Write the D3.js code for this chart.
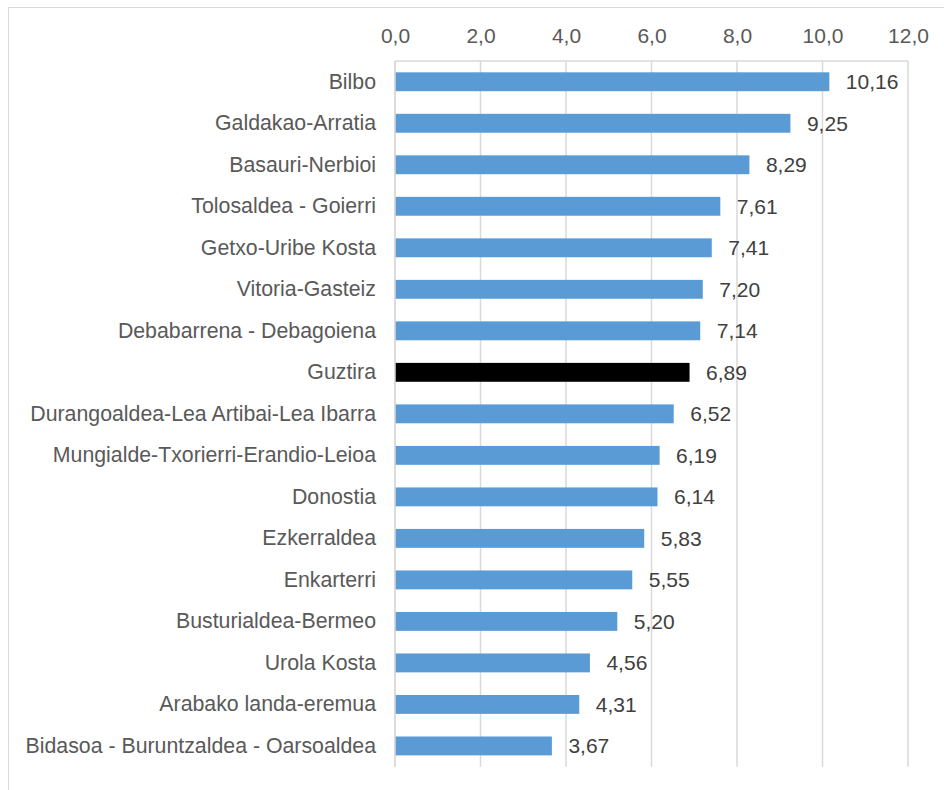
<!DOCTYPE html>
<html>
<head>
<meta charset="utf-8">
<script src="https://cdn.jsdelivr.net/npm/d3@7"></script>
<style>
  html, body { margin: 0; padding: 0; background: #fff; }
  svg { display: block; font-family: "Liberation Sans", Arial, sans-serif; }
</style>
</head>
<body>
<svg id="chart" width="944" height="790"></svg>
<script>
// Regions, top to bottom
const categories = [
  "Bilbo",
  "Galdakao-Arratia",
  "Basauri-Nerbioi",
  "Tolosaldea - Goierri",
  "Getxo-Uribe Kosta",
  "Vitoria-Gasteiz",
  "Debabarrena - Debagoiena",
  "Guztira",
  "Durangoaldea-Lea Artibai-Lea Ibarra",
  "Mungialde-Txorierri-Erandio-Leioa",
  "Donostia",
  "Ezkerraldea",
  "Enkarterri",
  "Busturialdea-Bermeo",
  "Urola Kosta",
  "Arabako landa-eremua",
  "Bidasoa - Buruntzaldea - Oarsoaldea"
];
const values = [10.16, 9.25, 8.29, 7.61, 7.41, 7.20, 7.14, 6.89, 6.52, 6.19, 6.14, 5.83, 5.55, 5.20, 4.56, 4.31, 3.67];
const tickValues = [0, 2, 4, 6, 8, 10, 12];
const totalCategory = "Guztira";

const svg = d3.select("#chart");
const margin = { left: 395, right: 36, top: 61, bottom: 23.3 };
const W = 944, H = 790;
const fontFamily = "'Liberation Sans', Arial, sans-serif";

// outer chart frame
svg.append("rect")
  .attr("x", 8.5).attr("y", 7.5)
  .attr("width", 960).attr("height", 820)
  .attr("fill", "#fff").attr("stroke", "#d9d9d9").attr("stroke-width", 1);

const x = d3.scaleLinear().domain([0, 12]).range([margin.left, 908]);
const y = d3.scaleBand().domain(categories)
  .range([margin.top, H - margin.bottom])
  .paddingInner(0.545).paddingOuter(0.2725);

const fmt = v => d3.format(".1f")(v).replace(".", ",");
const fmt2 = v => d3.format(".2f")(v).replace(".", ",");

// vertical gridlines
svg.append("g").selectAll("line").data(tickValues).join("line")
  .attr("x1", d => x(d)).attr("x2", d => x(d))
  .attr("y1", margin.top).attr("y2", H - margin.bottom)
  .attr("stroke", "#d9d9d9").attr("stroke-width", 1.5);

// top axis line
svg.append("line")
  .attr("x1", x(0)).attr("x2", x(12))
  .attr("y1", margin.top).attr("y2", margin.top)
  .attr("stroke", "#d9d9d9").attr("stroke-width", 1.5);

// top axis labels
const xAxis = d3.axisTop(x).tickValues(tickValues).tickFormat(fmt).tickSize(0).tickPadding(0);
const gx = svg.append("g").attr("transform", "translate(0,43)").call(xAxis);
gx.select(".domain").remove();
gx.selectAll("text")
  .attr("font-size", 21).attr("fill", "#595959")
  .attr("font-family", fontFamily)
  .attr("dy", 0);

// bars
svg.append("g").selectAll("rect").data(categories).join("rect")
  .attr("x", x(0))
  .attr("y", d => y(d))
  .attr("width", (d, i) => x(values[i]) - x(0))
  .attr("height", y.bandwidth())
  .attr("fill", d => d === totalCategory ? "#000000" : "#5b9bd5");

// category labels
const yAxis = d3.axisLeft(y).tickSize(0).tickPadding(19);
const gy = svg.append("g").attr("transform", `translate(${x(0)},0)`).call(yAxis);
gy.select(".domain").remove();
gy.selectAll("text")
  .attr("font-size", 21.3).attr("fill", "#595959")
  .attr("font-family", fontFamily);

// left axis line
svg.append("line")
  .attr("x1", x(0)).attr("x2", x(0))
  .attr("y1", margin.top).attr("y2", H - margin.bottom)
  .attr("stroke", "#d9d9d9").attr("stroke-width", 1.5);

// value labels
svg.append("g").selectAll("text").data(categories).join("text")
  .attr("x", (d, i) => x(values[i]) + 16.5)
  .attr("y", d => y(d) + y.bandwidth() / 2)
  .attr("dy", "0.35em")
  .attr("font-size", 21).attr("fill", "#404040")
  .attr("font-family", fontFamily)
  .text((d, i) => fmt2(values[i]));
</script>
</body>
</html>
